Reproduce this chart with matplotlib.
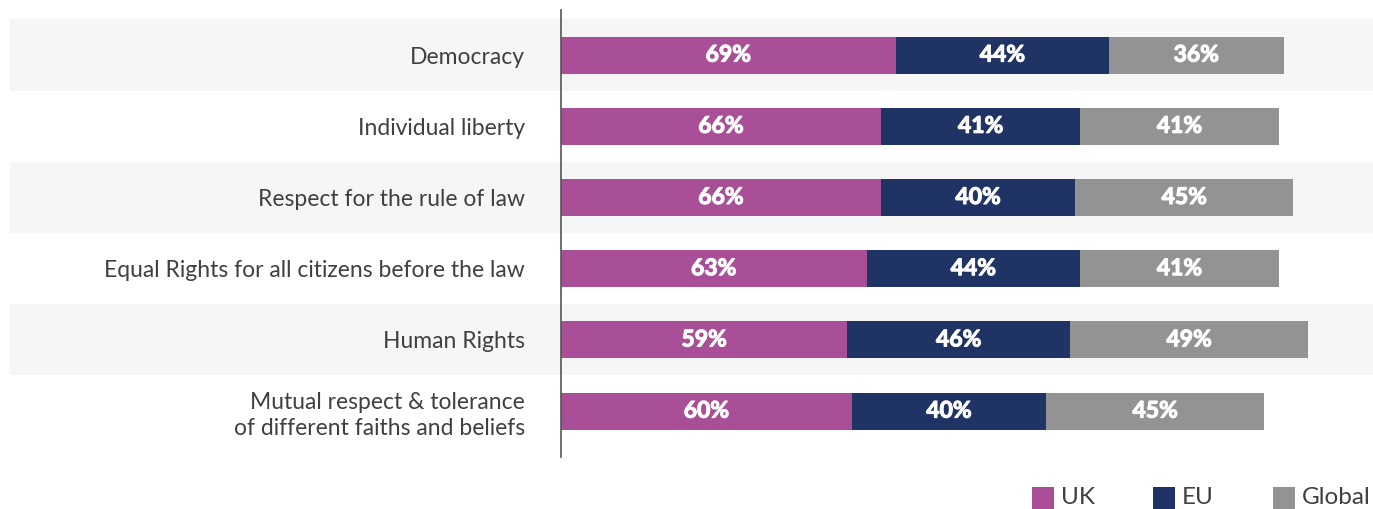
import matplotlib
matplotlib.use("Agg")
import matplotlib.pyplot as plt
import matplotlib.transforms as mtransforms
import matplotlib.patheffects as pe
from matplotlib.patches import Rectangle

plt.rcParams['font.family'] = ['Lato', 'DejaVu Sans']

# Data
categories = [
    "Democracy",
    "Individual liberty",
    "Respect for the rule of law",
    "Equal Rights for all citizens before the law",
    "Human Rights",
    "Mutual respect & tolerance\nof different faiths and beliefs",
]
series_names = ["UK", "EU", "Global"]
uk = [69, 66, 66, 63, 59, 60]
eu = [44, 41, 40, 44, 46, 40]
glob = [36, 41, 45, 41, 49, 45]

colors = ["#a84f98", "#1f3364", "#939393"]
text_color = "#404040"

fig = plt.figure(figsize=(13.73, 5.09), dpi=100)
ax = fig.add_axes([561 / 1373, 1 - 457 / 509, 1 - 561 / 1373, (457 - 10) / 509])

ypos = list(range(len(categories)))

# alternating row bands across the figure width
trans = mtransforms.blended_transform_factory(fig.transFigure, ax.transData)
for i in ypos:
    if i % 2 == 0:
        ax.add_patch(Rectangle((10 / 1373, i - 0.5), 1, 1.0, transform=trans,
                               facecolor="#f6f6f6", edgecolor="none",
                               clip_on=False, zorder=0))

# stacked bars with value labels
left = [0] * len(categories)
for name, vals, col in zip(series_names, [uk, eu, glob], colors):
    bars = ax.barh(ypos, vals, left=left, height=0.52, color=col, zorder=2)
    for b, v in zip(bars, vals):
        ax.text(b.get_x() + b.get_width() / 2, b.get_y() + b.get_height() / 2,
                f"{v}%", ha="center", va="center", color="white",
                fontsize=16.5, fontweight="bold", zorder=3,
                path_effects=[pe.withStroke(linewidth=0.8, foreground="white")])
    left = [l + v for l, v in zip(left, vals)]

ax.set_xlim(0, (1373 - 561) / 4.85)
ax.set_ylim(5.645, -0.633)

for s in ["top", "right", "bottom"]:
    ax.spines[s].set_visible(False)
ax.spines["left"].set_color("#555555")
ax.spines["left"].set_linewidth(1.2)
ax.set_xticks([])
ax.set_yticks(ypos)
ax.set_yticklabels(categories, fontsize=16.5, color=text_color, linespacing=1.3)
ax.tick_params(axis="y", length=0, pad=26)
ax.patch.set_alpha(0)

# legend at bottom right
leg_x = [1032, 1153, 1273]
for x, name, col in zip(leg_x, series_names, colors):
    fig.patches.append(Rectangle((x / 1373, 0), 22 / 1373, 22 / 509,
                                 transform=fig.transFigure, facecolor=col,
                                 edgecolor="none"))
    fig.text((x + 29) / 1373, 11 / 509, name, fontsize=17.5, color=text_color,
             ha="left", va="center")

fig.savefig("out.png", dpi=100)
